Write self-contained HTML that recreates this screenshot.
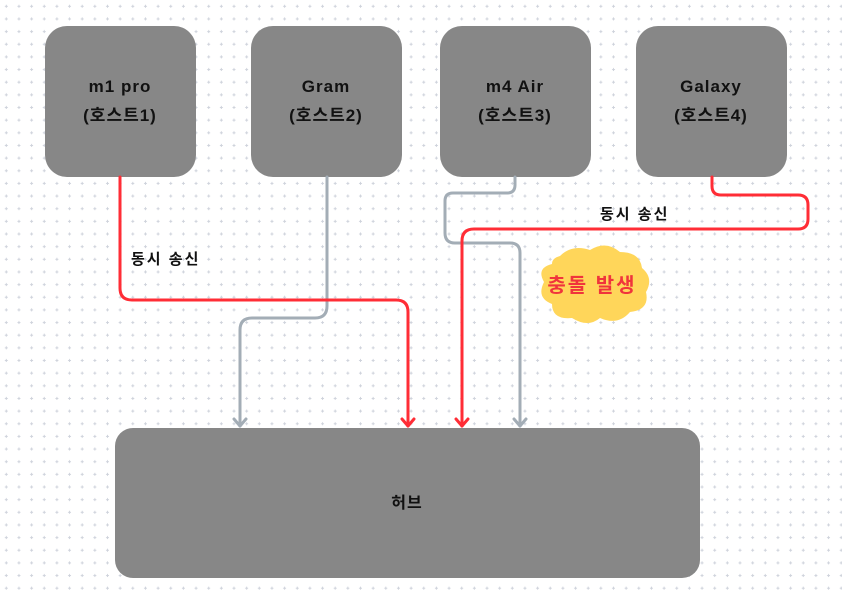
<!DOCTYPE html>
<html><head><meta charset="utf-8"><style>
html,body{margin:0;padding:0;background:#fff;}
svg{display:block;}
text{font-family:"Liberation Sans","Noto Sans CJK KR",sans-serif;font-weight:bold;}
</style></head><body>
<svg width="842" height="597" viewBox="0 0 842 597" xmlns="http://www.w3.org/2000/svg">
<defs>
<pattern id="dots" x="0" y="0" width="12.65" height="12.65" patternUnits="userSpaceOnUse">
<path d="M6.3 4.8v3M4.8 6.3h3" stroke="#cfd3dc" stroke-width="1"/>
</pattern>
</defs>
<rect width="842" height="597" fill="url(#dots)"/>
<g fill="#878787">
<rect x="45" y="26" width="151" height="151" rx="22"/>
<rect x="251" y="26" width="151" height="151" rx="22"/>
<rect x="440" y="26" width="151" height="151" rx="22"/>
<rect x="636" y="26" width="151" height="151" rx="22"/>
<rect x="115" y="428" width="585" height="150" rx="18"/>
</g>
<g fill="none" stroke-width="3" stroke-linecap="round" stroke-linejoin="round">
<path d="M327 177 V306 Q327 318 315 318 H252 Q240 318 240 330 V426" stroke="#a3adb6"/>
<path d="M515 177 V185 Q515 193 507 193 H453 Q445 193 445 201 V233 Q445 243 455 243 H510 Q520 243 520 253 V426" stroke="#a3adb6"/>
<path d="M120 177 V288 Q120 300 132 300 H396 Q408 300 408 312 V426" stroke="#ff2d36"/>
<path d="M712 177 V186 Q712 195 721 195 H798 Q808 195 808 205 V219 Q808 229 798 229 H474 Q462 229 462 241 V426" stroke="#ff2d36"/>
<path d="M234 419 L240 426 L246 419" stroke="#a3adb6"/>
<path d="M514 419 L520 426 L526 419" stroke="#a3adb6"/>
<path d="M402 419 L408 426 L414 419" stroke="#ff2d36"/>
<path d="M456 419 L462 426 L468 419" stroke="#ff2d36"/>
</g>
<path d="M560 256 Q572 244 590 250 Q606 240 620 252 Q640 252 642 268 Q654 278 646 292 Q650 310 630 312 Q618 326 600 318 Q588 328 572 318 Q552 320 552 304 Q536 298 544 282 Q536 268 552 264 Q552 258 560 256 Z" fill="#ffd65a"/>
<g font-size="17" fill="#111" text-anchor="middle" letter-spacing="1">
<text x="120" y="92">m1 pro</text><text x="120" y="121">(호스트1)</text>
<text x="326" y="92">Gram</text><text x="326" y="121">(호스트2)</text>
<text x="515" y="92">m4 Air</text><text x="515" y="121">(호스트3)</text>
<text x="711" y="92">Galaxy</text><text x="711" y="121">(호스트4)</text>
<text x="407" y="508" font-size="16">허브</text>
</g>
<g font-size="15" fill="#111" letter-spacing="2">
<text x="131" y="264">동시 송신</text>
<text x="600" y="219">동시 송신</text>
</g>
<text x="592" y="292" font-size="20" fill="#f0343c" text-anchor="middle" letter-spacing="2">충돌 발생</text>
</svg>
</body></html>
